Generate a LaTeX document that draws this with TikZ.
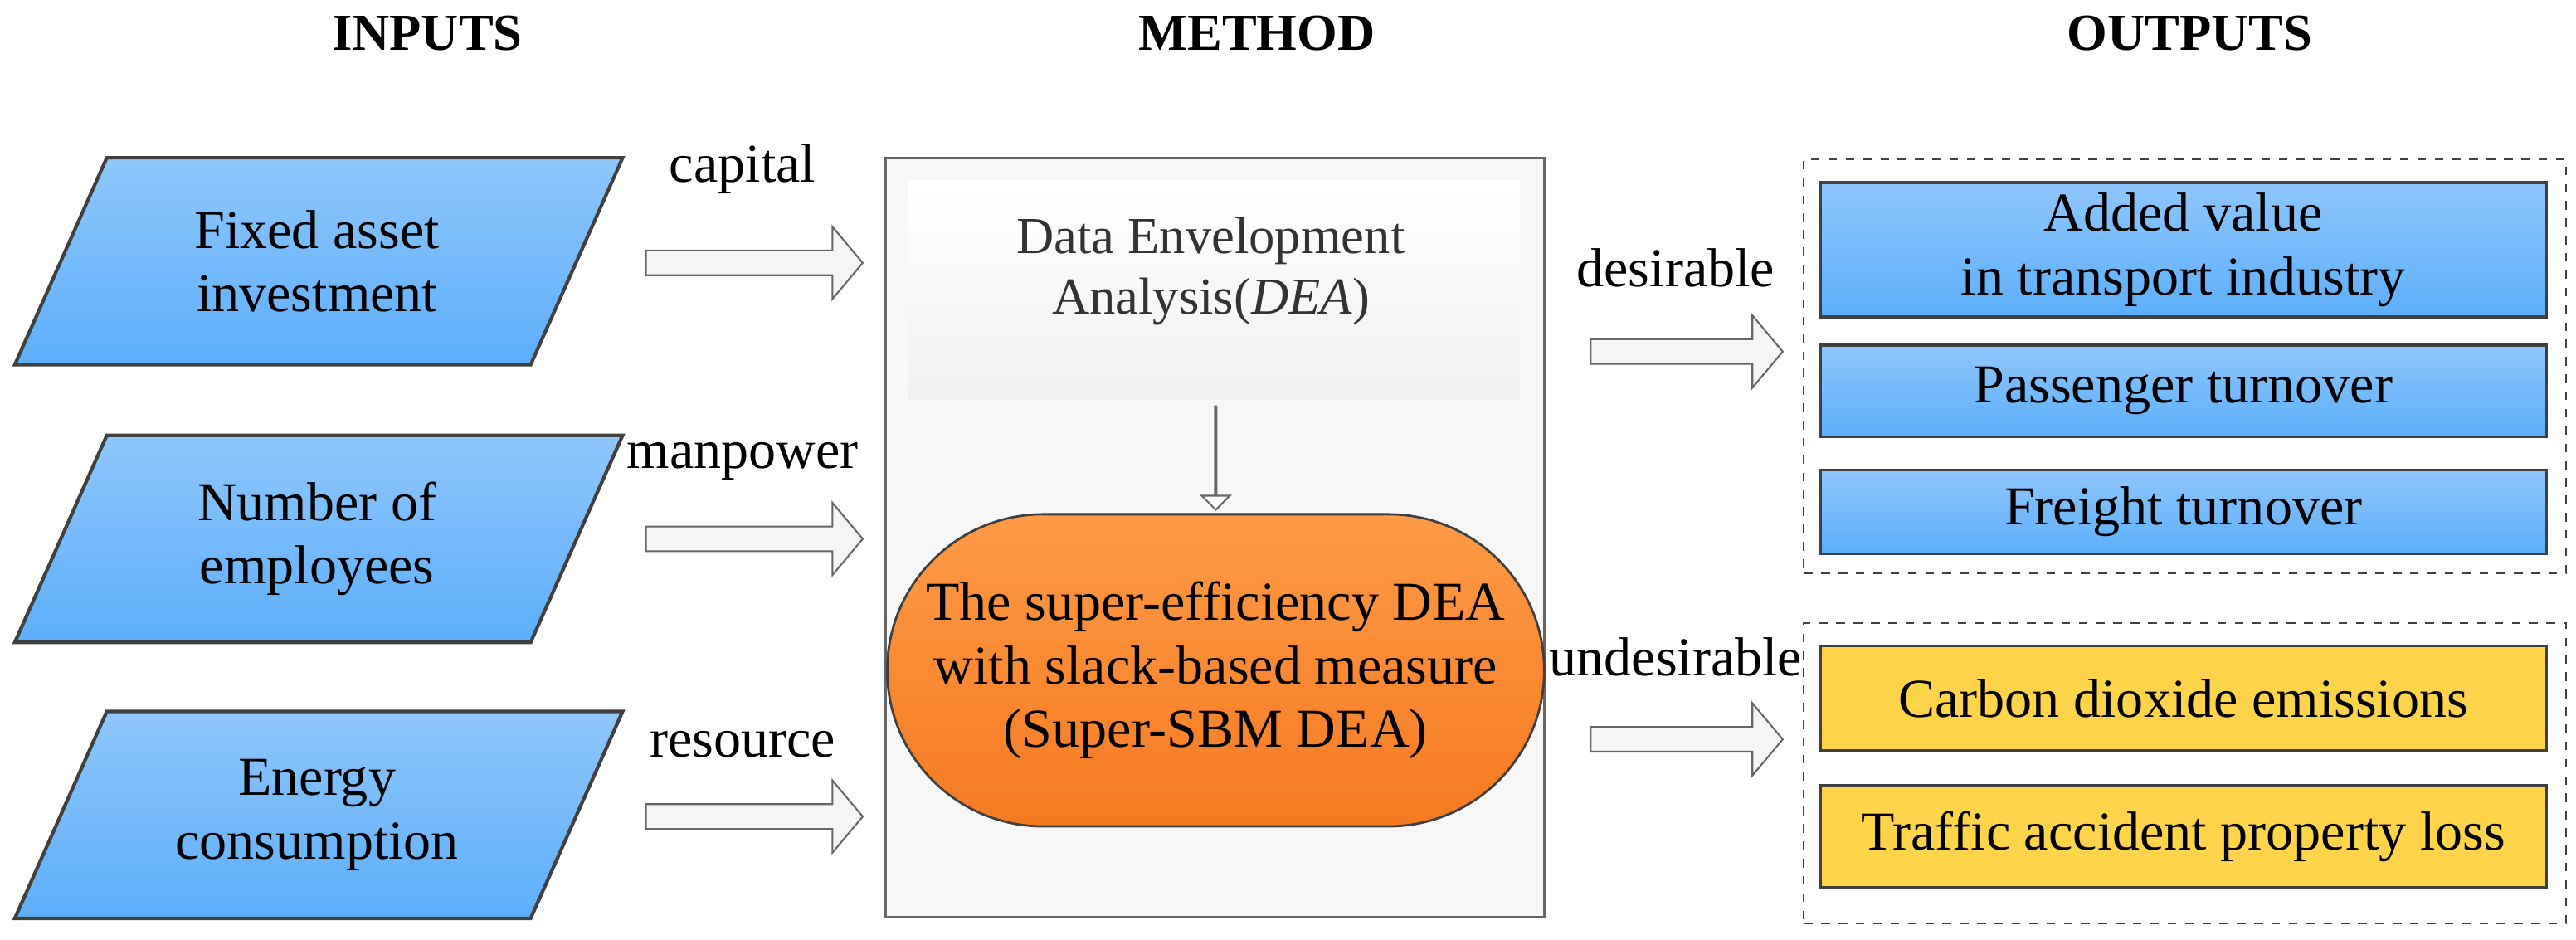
\documentclass[tikz,border=0pt]{standalone}
\usepackage{fontspec}
\setmainfont{Liberation Serif}
\usetikzlibrary{shapes.arrows}
\definecolor{bluetop}{HTML}{8FC6FC}
\definecolor{bluebot}{HTML}{5CAEFA}
\definecolor{yel}{HTML}{FDD44A}
\definecolor{ortop}{HTML}{FF9A45}
\definecolor{orbot}{HTML}{F57A22}
\definecolor{edge}{HTML}{404040}
\begin{document}
\begin{tikzpicture}[x=0.02cm,y=-0.02cm,
  txt/.style={font=\fontsize{19}{22}\selectfont, align=center, inner sep=0pt},
  title/.style={font=\fontsize{18}{22}\selectfont\bfseries},
  para/.style={draw=edge, line width=1.2pt, top color=bluetop, bottom color=bluebot},
  harrow/.style={single arrow, draw=gray!80!black, fill=gray!8, line width=0.6pt,
    minimum height=2.64cm, single arrow head extend=0.29cm, inner xsep=0pt, inner ysep=0.14cm,
    single arrow tip angle=100, shape border rotate=0},
  outbox/.style={draw=edge, line width=1pt, minimum width=8.84cm, txt},
  bluebox/.style={outbox, top color=bluetop, bottom color=bluebot},
  yelbox/.style={outbox, fill=yel},
  dashbox/.style={draw=edge, dashed, line width=0.6pt}]
\useasboundingbox (0,0) rectangle (1568,572);
% titles
\node[title] (tin) at (260,20) {INPUTS};
\node[title] (tme) at (765,20) {METHOD};
\node[title] (tou) at (1333,20) {OUTPUTS};
% parallelograms
\foreach \t/\n in {96/p1,265/p2,433/p3}{
  \path[para] (65,\t) -- (379,\t) -- (323,\t+126) -- (9,\t+126) -- cycle;
}
\node[txt] (in1) at (193,159) {Fixed asset\\investment};
\node[txt] (in2) at (193,328) {Number of\\employees};
\node[txt] (in3) at (193,496) {Energy\\consumption};
\node[txt] (l1) at (452,103) {capital};
\node[txt] (l2) at (452,281) {manpower};
\node[txt] (l3) at (452,453) {resource};
\node[harrow] (a1) at (456,160) {};
\node[harrow] (a2) at (456,328) {};
\node[harrow] (a3) at (456,497) {};
% method
\node[draw=gray!80!black, fill=gray!6, line width=0.8pt, minimum width=8.02cm, minimum height=9.24cm, inner sep=0pt] (meth) at (739.5,327) {};
\node[top color=white, bottom color=gray!12, minimum width=7.44cm, minimum height=2.66cm, inner sep=0pt] (deabox) at (739,176.5) {};
\node[txt, font=\fontsize{18}{21}\selectfont, text=black!80] (dea) at (737,165) {Data Envelopment\\Analysis(\textit{DEA})};
\node[single arrow, draw=gray!80!black, fill=white, line width=0.6pt, minimum height=1.26cm,
  single arrow head extend=0.16cm, inner xsep=0pt, inner ysep=0.14cm, single arrow tip angle=90,
  shape border rotate=270] (down) at (740,278.5) {};
\node[draw=edge, line width=0.8pt, top color=ortop, bottom color=orbot, rounded corners=1.9cm,
  minimum width=8cm, minimum height=3.8cm, txt] (sbm) at (740,408)
  {The super-efficiency DEA\\with slack-based measure\\(Super-SBM DEA)};
% outputs
\node[dashbox, minimum width=9.28cm, minimum height=5.04cm, inner sep=0pt] (dA) at (1330,223) {};
\node[dashbox, minimum width=9.28cm, minimum height=3.66cm, inner sep=0pt] (dB) at (1330,470.5) {};
\node[bluebox, minimum height=1.64cm] (o1) at (1329,152) {Added value\\in transport industry};
\node[bluebox, minimum height=1.12cm] (o2) at (1329,238) {Passenger turnover};
\node[bluebox, minimum height=1.02cm] (o3) at (1329,311.5) {Freight turnover};
\node[yelbox, minimum height=1.28cm] (o4) at (1329,425) {Carbon dioxide emissions};
\node[yelbox, minimum height=1.24cm] (o5) at (1329,509) {Traffic accident property loss};
\node[txt] (l4) at (1020,163) {desirable};
\node[txt] (l5) at (1020,400) {undesirable};
\node[harrow, minimum height=2.34cm] (a4) at (1023.5,214) {};
\node[harrow, minimum height=2.34cm] (a5) at (1023.5,450) {};
\end{tikzpicture}
\end{document}
